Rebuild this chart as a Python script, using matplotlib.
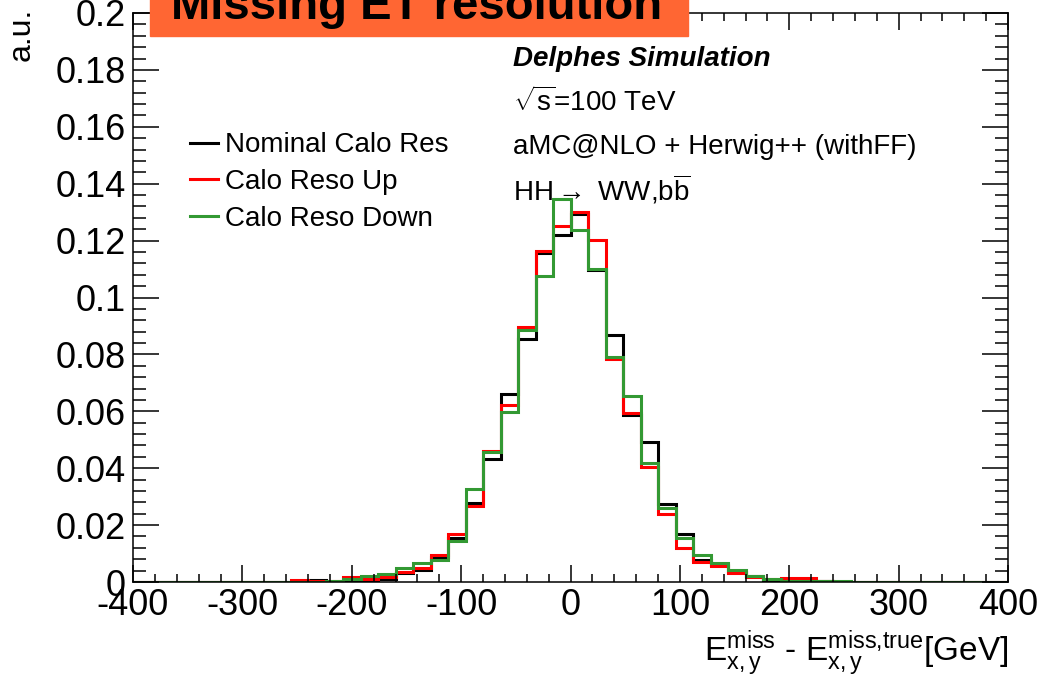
import numpy as np
import matplotlib
matplotlib.use("Agg")
import matplotlib.pyplot as plt
from matplotlib.patches import Rectangle
from matplotlib.ticker import MultipleLocator

plt.rcParams['font.family'] = ['Liberation Sans', 'DejaVu Sans']
plt.rcParams['mathtext.fontset'] = 'custom'
plt.rcParams['mathtext.rm'] = 'Liberation Sans'
plt.rcParams['mathtext.it'] = 'Liberation Sans:italic'
plt.rcParams['mathtext.bf'] = 'Liberation Sans:bold'
plt.rcParams['mathtext.default'] = 'regular'
plt.rcParams['axes.unicode_minus'] = False

# binning: 50 bins of 16 GeV from -400 to 400
x_min, x_max, bin_width = -400, 400, 16
edges = np.arange(x_min, x_max + bin_width, bin_width)

nominal = [0, 0, 0, 0, 0, 0, 0, 0, 0, 0,
           0.0007, 0.0001, 0.0002, 0.0004, 0.0009, 0.0030, 0.0042, 0.0088, 0.0154, 0.0277,
           0.0432, 0.0661, 0.0853, 0.1158, 0.1220, 0.1295, 0.1096, 0.0868, 0.0587, 0.0491,
           0.0273, 0.0167, 0.0078, 0.0060, 0.0035, 0.0020, 0.0008, 0.0003, 0.0003, 0.0003,
           0, 0, 0, 0, 0, 0, 0, 0, 0, 0]
reso_up = [0, 0, 0, 0, 0, 0, 0, 0, 0, 0.0007,
           0.0003, 0.0003, 0.0019, 0.0010, 0.0017, 0.0036, 0.0050, 0.0094, 0.0168, 0.0267,
           0.0460, 0.0622, 0.0896, 0.1163, 0.1252, 0.1302, 0.1202, 0.0785, 0.0593, 0.0405,
           0.0238, 0.0118, 0.0072, 0.0056, 0.0030, 0.0019, 0.0010, 0.0013, 0.0013, 0.0003,
           0, 0, 0, 0, 0, 0, 0, 0, 0, 0]
reso_down = [0, 0, 0, 0, 0, 0, 0, 0, 0, 0,
             0, 0.0002, 0.0010, 0.0021, 0.0027, 0.0048, 0.0066, 0.0077, 0.0143, 0.0326,
             0.0458, 0.0599, 0.0886, 0.1075, 0.1345, 0.1236, 0.1099, 0.0792, 0.0655, 0.0417,
             0.0259, 0.0153, 0.0094, 0.0066, 0.0043, 0.0021, 0.0010, 0.0005, 0.0005, 0.0004,
             0.0002, 0, 0, 0, 0, 0, 0, 0, 0, 0]

labels = ["Nominal Calo Res", "Calo Reso Up", "Calo Reso Down"]
colors = ["black", "#ff0000", "#339933"]
ytick_vals = [0, 0.02, 0.04, 0.06, 0.08, 0.1, 0.12, 0.14, 0.16, 0.18, 0.2]
ytick_labels = ["0", "0.02", "0.04", "0.06", "0.08", "0.1", "0.12",
                "0.14", "0.16", "0.18", "0.2"]

fig = plt.figure(figsize=(10.45, 6.76), dpi=100)
ax = fig.add_axes([133 / 1045, 1 - 582 / 676, 875 / 1045, 569 / 676])

for vals, lab, col in zip([nominal, reso_up, reso_down], labels, colors):
    ax.stairs(vals, edges, color=col, lw=2.2, label=lab)

ax.set_xlim(x_min, x_max)
ax.set_ylim(0, 0.2)
ax.xaxis.set_major_locator(MultipleLocator(100))
ax.xaxis.set_minor_locator(MultipleLocator(20))
ax.yaxis.set_minor_locator(MultipleLocator(0.004))
ax.set_yticks(ytick_vals)
ax.set_yticklabels(ytick_labels)
ax.tick_params(which='both', direction='in', top=True, right=True,
               labelsize=26, width=1.1)
ax.tick_params(axis='x', which='major', length=12, pad=4)
ax.tick_params(axis='x', which='minor', length=6)
ax.tick_params(axis='y', which='major', length=18.5, pad=5)
ax.tick_params(axis='y', which='minor', length=9.5)
for s in ax.spines.values():
    s.set_linewidth(1.1)

ax.legend(loc='upper left', bbox_to_anchor=(0.065, 0.79), frameon=False,
          fontsize=20, handlelength=1.0, handletextpad=0.25,
          labelspacing=0.38, borderpad=0, borderaxespad=0)

# labels
fig.text(1008 / 1045, 1 - 653 / 676,
         r"$E_{x,y}^{miss}$ - $E_{x,y}^{miss{,}true}$[GeV]",
         ha='right', va='center', fontsize=24)
fig.text(22 / 1045, 1 - 8 / 676, "a.u.", rotation=90, ha='center', va='top',
         fontsize=23)

# physics texts
tx = 513 / 1045
fig.text(tx, 1 - 59 / 676, "Delphes Simulation", fontsize=20,
         fontweight='bold', style='italic', va='center')
fig.text(tx, 1 - 102 / 676, r"$\sqrt{s}$=100 TeV", fontsize=20, va='center')
fig.text(tx, 1 - 147 / 676, "aMC@NLO + Herwig++ (withFF)", fontsize=20,
         va='center')
fig.text(tx, 1 - 190 / 676, r"HH$\rightarrow$ WW,b$\overline{b}$", fontsize=20,
         va='center')

# title box
fig.patches.append(Rectangle((150 / 1045, 1 - 36 / 676), 538 / 1045, 0.1,
                             transform=fig.transFigure, color='#ff6633',
                             zorder=5))
fig.text(417 / 1045, 1 - 19 / 676, "Missing ET resolution", ha='center',
         va='baseline', fontsize=34, fontweight='bold', zorder=6)

fig.savefig("out.png", dpi=100)
